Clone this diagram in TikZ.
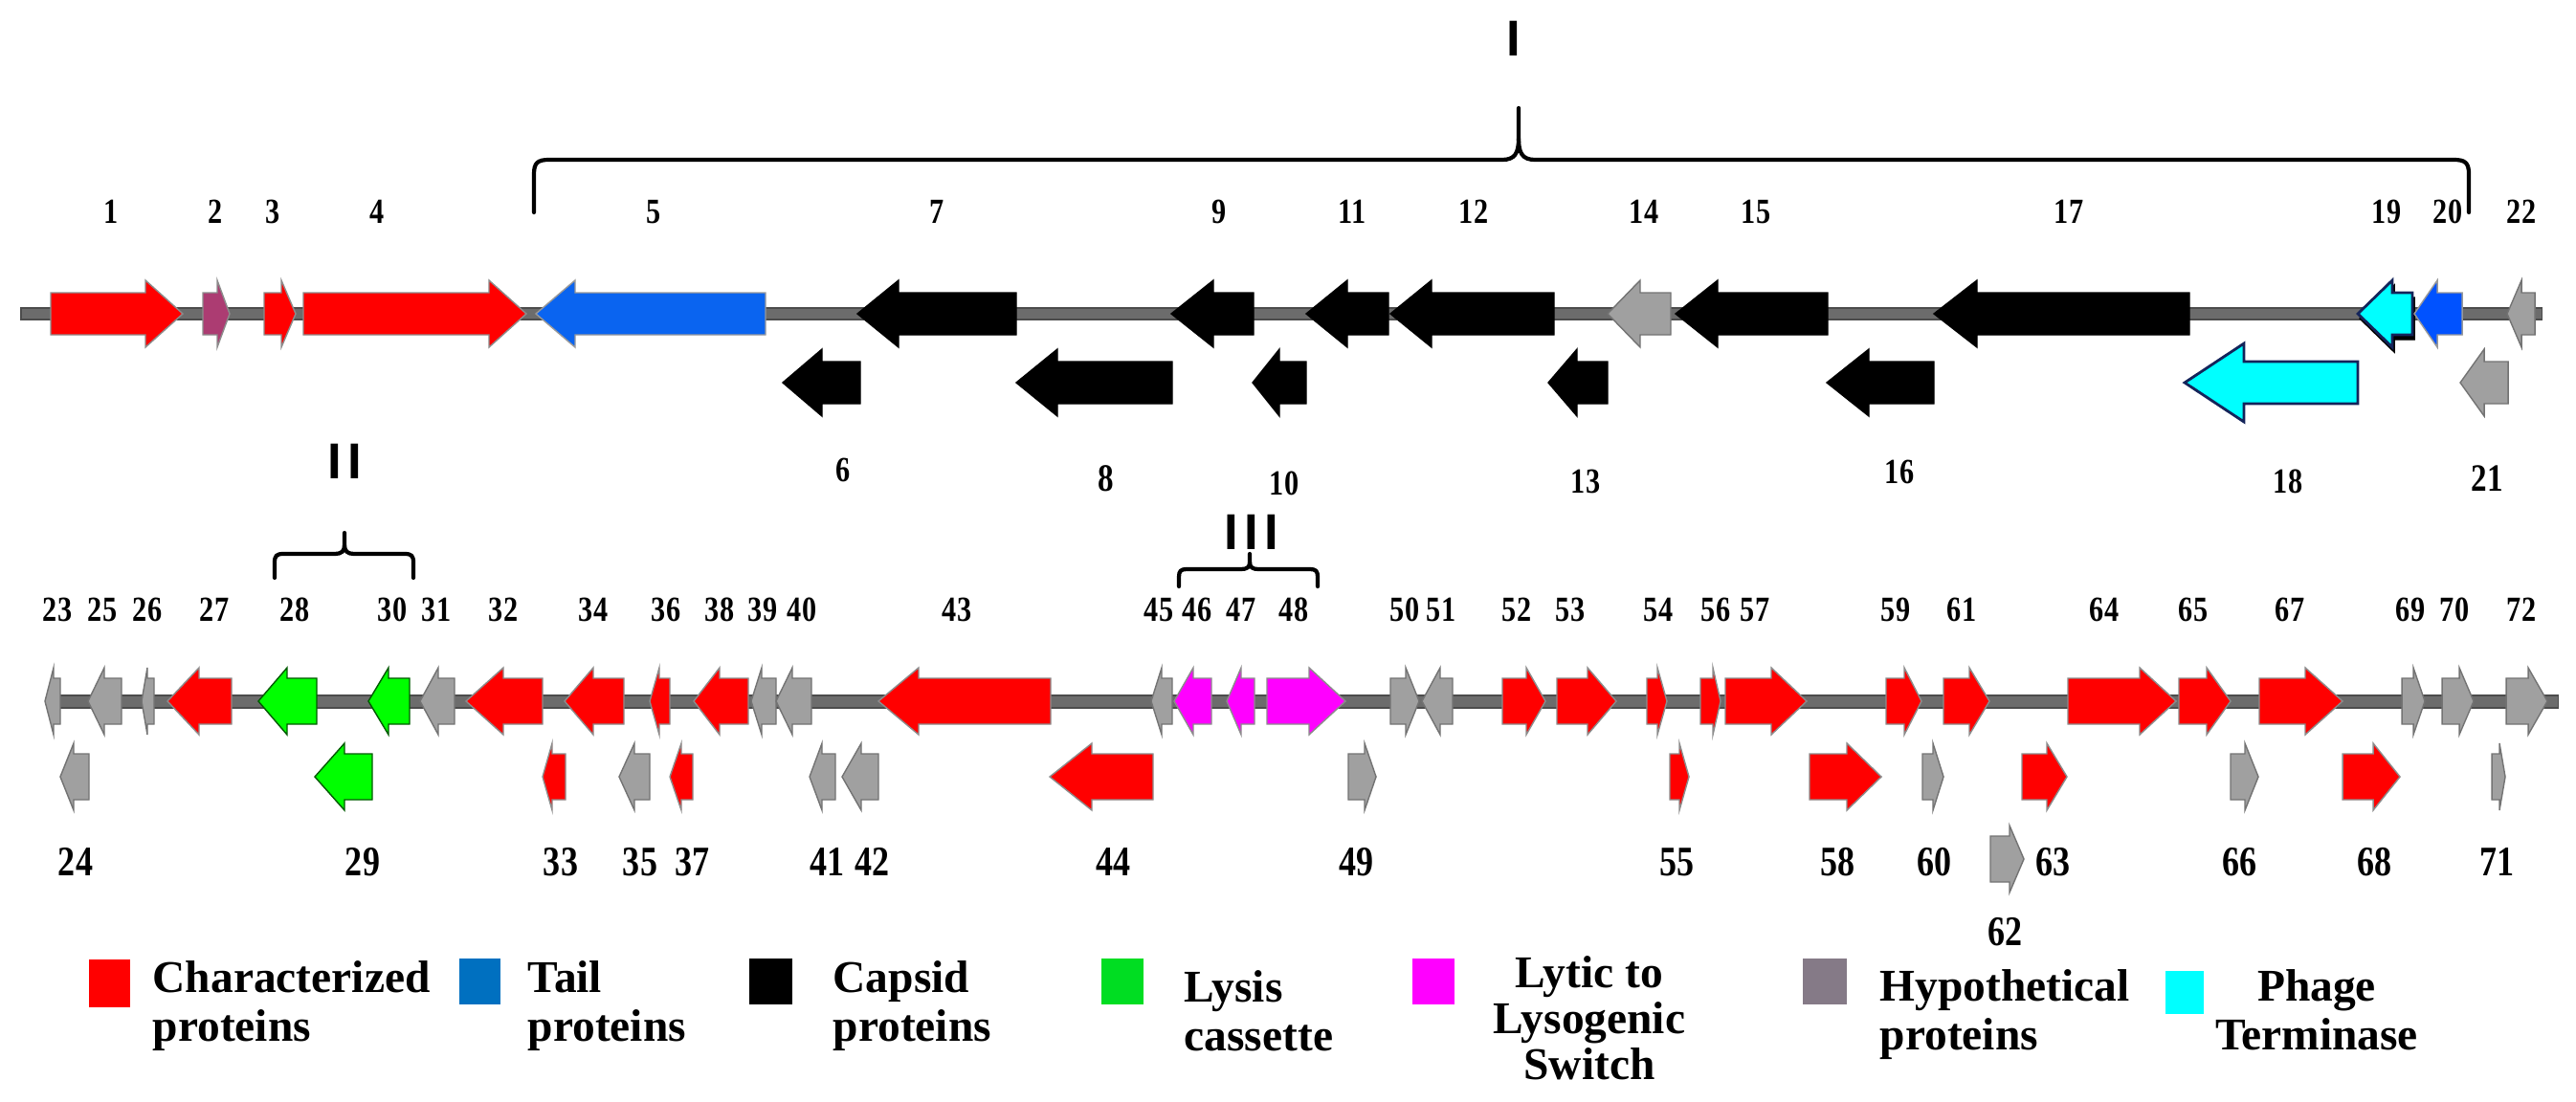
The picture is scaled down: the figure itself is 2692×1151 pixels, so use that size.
\documentclass[tikz,border=0pt]{standalone}
\usepackage{fontspec}
\setmainfont{Liberation Serif}
\newfontfamily\numfont[FakeStretch=0.82]{Liberation Serif}
\newfontfamily\romfont{Liberation Sans}
\usepackage{tikz}
\usepackage{xcolor}
\definecolor{tailblue}{HTML}{0A64F0}
\definecolor{tailblueb}{HTML}{0052FF}
\definecolor{legblue}{HTML}{0070C0}
\definecolor{lysgreen}{HTML}{00FF00}
\definecolor{leggreen}{HTML}{00DD22}
\definecolor{switchmag}{HTML}{FF00FF}
\definecolor{hypogray}{HTML}{A0A0A0}
\definecolor{leggray}{HTML}{857A87}
\definecolor{termcyan}{HTML}{00FFFF}
\definecolor{termnavy}{HTML}{14245A}
\definecolor{maroonp}{HTML}{AC3C72}
\definecolor{backgray}{HTML}{6C6C6C}
\tikzset{
	charp/.style={fill=red, draw=black!45, line width=0.4pt},
	tailp/.style={fill=tailblue, draw=black!40, line width=0.4pt},
	capsid/.style={fill=black, draw=black, line width=0.4pt},
	lysis/.style={fill=lysgreen, draw=green!35!black, line width=0.4pt},
	switchp/.style={fill=switchmag, draw=black!45, line width=0.4pt},
	hypo/.style={fill=hypogray, draw=black!55, line width=0.4pt},
	termin/.style={fill=termcyan, draw=termnavy, line width=0.8pt},
	backbone/.style={fill=backgray, draw=black!70, line width=0.3pt},
	brace/.style={line width=1.2pt, line cap=round, line join=round},
	numlab/.style={anchor=base, inner sep=0pt, font=\numfont\bfseries\fontsize{10.5}{12}\selectfont},
	midlab/.style={numlab, font=\numfont\bfseries\fontsize{11.5}{13}\selectfont},
	biglab/.style={numlab, font=\numfont\bfseries\fontsize{12.5}{14}\selectfont},
	romlab/.style={inner sep=0pt, font=\romfont\bfseries\fontsize{15}{16}\selectfont},
	legtext/.style={anchor=base west, inner sep=0pt, align=left, font=\bfseries\fontsize{13.5}{14.5}\selectfont}
}
% one gene: style, start of body, base of head, tip, middle line
\newcommand{\bodyh}{22}
\newcommand{\headh}{35}
\newcommand{\gene}[5][hypo]{%
	\filldraw [#1] (#2,{#5-\bodyh}) -- (#3,{#5-\bodyh}) -- (#3,{#5-\headh}) -- (#4,#5) -- (#3,{#5+\headh}) -- (#3,{#5+\bodyh}) -- (#2,{#5+\bodyh}) -- cycle;%
}

\begin{document}
\begin{tikzpicture}[x=0.1mm, y=-0.1mm]
	\useasboundingbox (0,0) rectangle (2692,1151);

	% brackets and region numbers
	\node [romlab] (rI) at (1582,40) {I};
	\draw [brace] (558,222) -- (558,182) .. controls (558,170) and (562,167) .. (574,167) -- (1570,167) .. controls (1583,167) and (1587,160) .. (1587,145) -- (1587,113);
	\draw [brace] (1587,145) .. controls (1587,160) and (1591,167) .. (1604,167) -- (2564,167) .. controls (2576,167) and (2580,170) .. (2580,182) -- (2580,222);

	\node [romlab] (rII) at (360,482) {I\kern0.12em I};
	\draw [brace] (287,604) -- (287,588) .. controls (287,581) and (289,579) .. (296,579) -- (350,579) .. controls (357,579) and (360,576) .. (360,570) -- (360,557);
	\draw [brace] (360,570) .. controls (360,576) and (363,579) .. (370,579) -- (423,579) .. controls (430,579) and (432,581) .. (432,588) -- (432,604);

	\node [romlab] (rIII) at (1308,556) {I\kern0.12em I\kern0.12em I};
	\draw [brace] (1232,613) -- (1232,603) .. controls (1232,597) and (1234,595) .. (1240,595) -- (1297,595) .. controls (1303,595) and (1306,593) .. (1306,588) -- (1306,579);
	\draw [brace] (1306,588) .. controls (1306,593) and (1309,595) .. (1315,595) -- (1369,595) .. controls (1375,595) and (1377,597) .. (1377,603) -- (1377,613);

	% first line of the genome
	\filldraw [backbone] (22,322) rectangle (2656,334);
	\gene[charp]{53}{152}{191}{328}
	\gene[fill=maroonp, draw=black!45]{212}{227}{240}{328}
	\gene[charp]{276}{294}{309}{328}
	\gene[charp]{317}{511}{550}{328}
	\gene[tailp]{800}{601}{560}{328}
	\gene[capsid]{1062}{939}{896}{328}
	\gene[capsid]{1310}{1268}{1224}{328}
	\gene[capsid]{1451}{1408}{1365}{328}
	\gene[capsid]{1624}{1496}{1453}{328}
	\gene{1746}{1714}{1680}{328}
	\gene[capsid]{1910}{1795}{1751}{328}
	\gene[capsid]{2288}{2066}{2021}{328}
	\gene[fill=black, draw=black]{2523}{2502}{2466}{333}
	\gene[termin]{2521}{2500}{2464}{328}
	\gene[fill=tailblueb, draw=black!40]{2573}{2547}{2523}{328}
	\gene{2649}{2635}{2620}{328}

	\gene[capsid]{899}{859}{818}{400}
	\gene[capsid]{1225}{1105}{1062}{400}
	\gene[capsid]{1365}{1337}{1309}{400}
	\gene[capsid]{1680}{1648}{1618}{400}
	\gene[capsid]{2021}{1953}{1909}{400}
	\renewcommand{\headh}{41}
	\gene[termin]{2464}{2345}{2283}{400}
	\renewcommand{\headh}{35}
	\gene{2621}{2596}{2571}{400}

	\foreach \n/\x in {1/116, 2/225, 3/285, 4/394, 5/683, 7/979, 9/1274, 11/1413, 12/1540, 14/1718, 15/1835, 17/2162, 19/2494, 20/2558, 22/2635}
		\node [numlab] (l\n) at (\x,233) {\n};
	\node [numlab] (l6) at (881,503) {6};
	\node [midlab] (l8) at (1156,513) {8};
	\node [numlab] (l10) at (1342,517) {10};
	\node [numlab] (l13) at (1657,515) {13};
	\node [numlab] (l16) at (1985,505) {16};
	\node [numlab] (l18) at (2391,515) {18};
	\node [midlab] (l21) at (2599,513) {21};

	% second line of the genome
	\renewcommand{\bodyh}{24}
	\filldraw [backbone] (50,727) rectangle (2673,740);
	\gene{63}{56}{47}{733}
	\gene{127}{109}{92}{733}
	\gene{161}{154}{148}{733}
	\gene[charp]{242}{208}{175}{733}
	\gene[lysis]{331}{300}{270}{733}
	\gene[lysis]{428}{406}{385}{733}
	\gene{475}{458}{439}{733}
	\gene[charp]{567}{526}{487}{733}
	\gene[charp]{652}{620}{590}{733}
	\gene[charp]{700}{689}{679}{733}
	\gene[charp]{782}{752}{725}{733}
	\gene{811}{796}{785}{733}
	\gene{848}{828}{811}{733}
	\gene[charp]{1098}{960}{918}{733}
	\gene{1225}{1214}{1203}{733}
	\gene[switchp]{1266}{1247}{1227}{733}
	\gene[switchp]{1311}{1297}{1282}{733}
	\gene[switchp]{1324}{1368}{1406}{733}
	\gene{1453}{1469}{1483}{733}
	\gene{1518}{1505}{1486}{733}
	\gene[charp]{1570}{1595}{1615}{733}
	\gene[charp]{1627}{1659}{1689}{733}
	\gene[charp]{1721}{1732}{1742}{733}
	\gene[charp]{1777}{1790}{1798}{733}
	\gene[charp]{1803}{1851}{1888}{733}
	\gene[charp]{1971}{1990}{2008}{733}
	\gene[charp]{2031}{2058}{2079}{733}
	\gene[charp]{2161}{2236}{2274}{733}
	\gene[charp]{2277}{2306}{2331}{733}
	\gene[charp]{2361}{2409}{2448}{733}
	\gene{2510}{2522}{2534}{733}
	\gene{2552}{2570}{2585}{733}
	\gene{2619}{2642}{2662}{733}

	\gene{93}{77}{63}{812}
	\gene[lysis]{389}{360}{329}{812}
	\gene[charp]{591}{577}{567}{812}
	\gene{679}{663}{647}{812}
	\gene[charp]{724}{712}{700}{812}
	\gene{873}{859}{846}{812}
	\gene{918}{900}{880}{812}
	\gene[charp]{1205}{1141}{1097}{812}
	\gene{1409}{1426}{1438}{812}
	\gene[charp]{1745}{1755}{1765}{812}
	\gene[charp]{1891}{1930}{1966}{812}
	\gene{2009}{2020}{2031}{812}
	\gene[charp]{2113}{2139}{2160}{812}
	\gene{2331}{2346}{2360}{812}
	\gene[charp]{2448}{2480}{2508}{812}
	\gene{2604}{2612}{2618}{812}
	\gene{2080}{2100}{2115}{898}

	\foreach \n/\x in {23/60, 25/107, 26/154, 27/224, 28/308, 30/410, 31/456, 32/526, 34/620, 36/696, 38/752, 39/797, 40/838, 43/1000, 45/1211, 46/1251, 47/1297, 48/1352, 50/1468, 51/1506, 52/1585, 53/1641, 54/1733, 56/1793, 57/1834, 59/1981, 61/2050, 64/2199, 65/2292, 67/2393, 69/2519, 70/2565, 72/2635}
		\node [numlab] (l\n) at (\x,649) {\n};
	\foreach \n/\x in {24/79, 29/379, 33/586, 35/669, 37/723, 41/864, 42/911, 44/1163, 49/1417, 55/1752, 58/1920, 60/2021, 63/2145, 66/2340, 68/2481, 71/2609}
		\node [biglab] (l\n) at (\x,915) {\n};
	\node [biglab] (l62) at (2095,988) {62};

	% legend (the base of a node with two lines is its last line)
	\fill [red] (93,1003) rectangle (136,1053);
	\node [legtext] (tchar) at (159,1088) {Characterized\\proteins};
	\fill [legblue] (480,1002) rectangle (523,1050);
	\node [legtext] (ttail) at (551,1088) {Tail\\proteins};
	\fill [black] (783,1002) rectangle (828,1050);
	\node [legtext] (tcaps) at (870,1088) {Capsid\\proteins};
	\fill [leggreen] (1151,1002) rectangle (1195,1050);
	\node [legtext] (tlys) at (1237,1098) {Lysis\\cassette};
	\fill [switchmag] (1476,1002) rectangle (1520,1050);
	\node [legtext, anchor=base, align=center, font=\bfseries\fontsize{13.5}{13.6}\selectfont] (tswitch) at (1661,1128) {Lytic to\\Lysogenic\\Switch};
	\fill [leggray] (1884,1002) rectangle (1930,1050);
	\node [legtext] (thypo) at (1964,1097) {Hypothetical\\proteins};
	\fill [termcyan] (2263,1015) rectangle (2303,1060);
	\node [legtext, anchor=base, align=center] (tterm) at (2421,1097) {Phage\\Terminase};
\end{tikzpicture}
\end{document}
